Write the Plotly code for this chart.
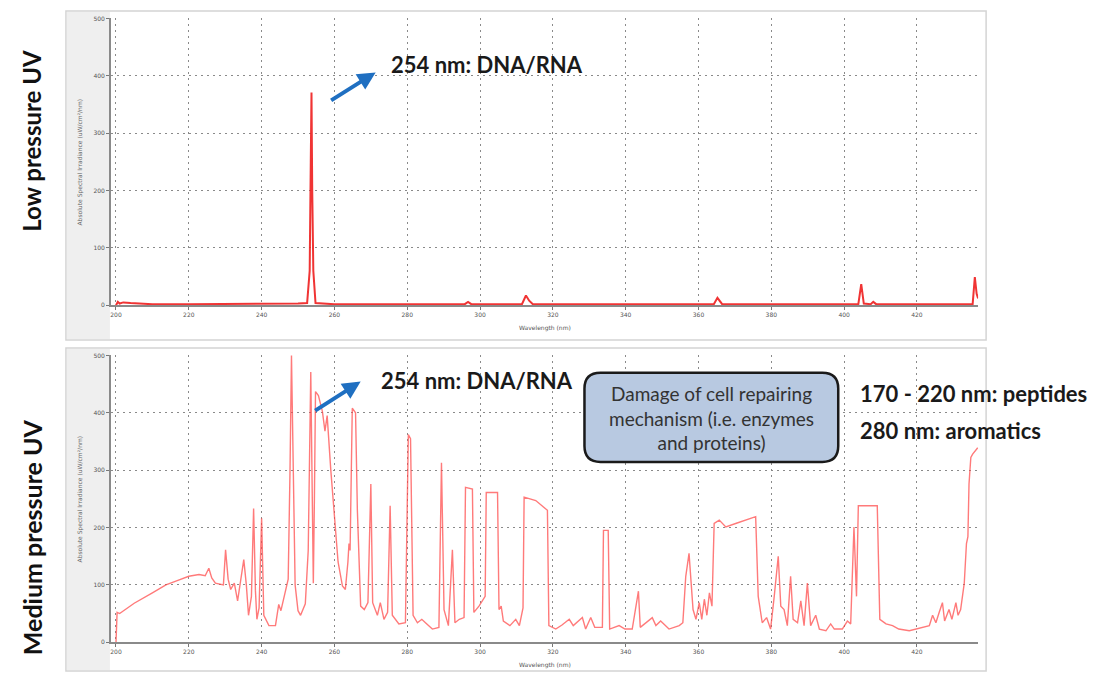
import plotly.graph_objects as go

W, H = 1096, 674

# ---------------- data ----------------
x_ticks = [200, 220, 240, 260, 280, 300, 320, 340, 360, 380, 400, 420]
y_ticks = [0, 100, 200, 300, 400, 500]

lp_wl = [200, 200.5, 201, 202, 204, 206, 210, 220, 240, 250, 252.5, 253.2, 253.5, 253.7,
         253.9, 254.2, 254.8, 260, 280, 295.8, 296.7, 297.6, 311.5, 312.6, 313.5, 314.5,
         340, 364.2, 365.2, 366.5, 380, 403.9, 404.7, 405.4, 407.3, 408, 408.8, 420,
         435.3, 435.9, 436.4, 436.8]
lp_val = [0, 6, 3, 5, 4, 3, 2, 2, 2, 3, 4, 60, 250, 371,
          200, 60, 4, 2, 2, 2, 6, 2, 2, 17, 8, 2,
          2, 2, 13, 2, 2, 2, 37, 3, 2, 6, 2, 2,
          2, 49, 20, 12]

mp_wl = [200, 200.3, 201, 205, 210, 213.7, 217, 220, 222.8, 224.5, 225.5, 226.3, 227.3,
         229.5, 230.1, 230.8, 231.5, 232.5, 233.4, 234.4, 235.1, 235.8, 236.4, 237.2,
         237.8, 238.3, 238.7, 239.3, 240, 240.6, 242, 243.8, 244.7, 245.3, 246.5, 247.3,
         247.8, 248.2, 248.7, 249.2, 250, 250.7, 252, 252.8, 253.5, 253.9, 254.2, 254.5,
         254.8, 255.6, 256.7, 257.4, 258, 259, 259.9, 261, 262.2, 263, 263.7, 264, 264.3,
         264.9, 265.8, 266.3, 267.2, 268.2, 269.2, 270, 270.5, 271.8, 272.6, 273.6, 274.6,
         275.3, 275.9, 277.7, 279.5, 280.3, 280.9, 281.6, 282.8, 284, 285, 286.9, 288.7,
         289.4, 290.1, 291.3, 292.4, 293.1, 294.3, 295.6, 296, 297.9, 298.3, 299.7, 301.4,
         301.7, 304.8, 305.2, 305.8, 306.4, 308.2, 309.8, 310.8, 311.8, 312.1, 315.3, 318.5,
         318.9, 320.8, 322.5, 324.5, 325.6, 328.1, 329, 330.4, 331.5, 333.6, 333.9, 335.2,
         335.6, 338.2, 339.8, 341.8, 343.5, 344, 345.5, 347.3, 348.3, 349.6, 351.9, 354.7,
         355.7, 356.5, 357.4, 358, 358.5, 359.3, 360.2, 360.9, 361.6, 362.3, 363, 363.7,
         364.3, 365.7, 367.5, 370.2, 375.7, 376.4, 377.5, 378.7, 379.8, 380.8, 381.9, 382.6,
         383.5, 384.4, 385.3, 386, 387.2, 388.1, 389, 389.9, 390.8, 392.2, 393.2, 395,
         396.3, 397.3, 399.5, 400.9, 401.8, 402.7, 403.4, 403.9, 409.1, 409.8, 411.5, 413.3,
         415, 417.9, 419.7, 421.5, 423.4, 424.3, 425.2, 426.1, 427, 427.6, 428.8, 429.6,
         430.7, 431.3, 432, 433, 433.6, 434, 434.3, 434.8, 435.3, 436.7]
mp_val = [0, 52, 50, 68, 86, 100, 108, 115, 118, 116, 129, 112, 103,
          100, 161, 110, 92, 103, 72, 110, 144, 100, 47, 80,
          233, 90, 40, 60, 216, 47, 29, 29, 66, 55, 90, 110,
          300, 500, 300, 100, 55, 47, 67, 160, 471, 300, 103, 250,
          437, 430, 402, 368, 395, 300, 224, 140, 98, 92, 140, 172, 160,
          408, 400, 230, 63, 57, 69, 276, 69, 47, 69, 40, 52,
          238, 47, 32, 34, 362, 355, 47, 34, 40, 34, 23, 26,
          313, 57, 29, 161, 34, 40, 43, 270, 267, 52, 63, 80,
          261, 261, 57, 63, 37, 29, 40, 29, 60, 253, 247, 230,
          29, 23, 30, 40, 29, 43, 23, 43, 26, 26, 195, 195,
          23, 29, 23, 23, 89, 26, 34, 43, 29, 37, 23, 29,
          34, 115, 155, 103, 57, 40, 69, 40, 75, 47, 86, 63,
          207, 213, 201, 207, 219, 80, 34, 43, 23, 80, 150, 63,
          57, 29, 115, 40, 34, 72, 29, 103, 29, 47, 23, 20,
          32, 23, 23, 37, 32, 201, 80, 238, 238, 40, 32, 29,
          23, 20, 23, 26, 29, 47, 34, 52, 69, 37, 57, 40,
          69, 47, 57, 103, 172, 184, 276, 322, 328, 339]

panel_labels = ["Low pressure UV", "Medium pressure UV"]
peak_label = "254 nm: DNA/RNA"
box_lines = ["Damage of cell repairing", "mechanism (i.e. enzymes", "and proteins)"]
side_lines = ["170 - 220 nm: peptides", "280 nm: aromatics"]
x_title = "Wavelength (nm)"
y_title = "Absolute Spectral Irradiance (uW/cm²/nm)"

# ---------------- helpers ----------------
def px(x):
    return x / W

def py(y):
    return 1 - y / H

X_RANGE = [198.6, 436.8]
xdom = [px(110), px(978)]

fig = go.Figure()
fig.add_trace(go.Scatter(x=lp_wl, y=lp_val, mode="lines", xaxis="x", yaxis="y",
                         line=dict(color="rgba(238,30,30,0.9)", width=2), showlegend=False))
fig.add_trace(go.Scatter(x=mp_wl, y=mp_val, mode="lines", xaxis="x2", yaxis="y2",
                         line=dict(color="rgba(255,70,70,0.72)", width=1.4), showlegend=False))

axis_common = dict(showgrid=True, gridcolor="#8a8a8a", griddash="2px,4px", gridwidth=1,
                   showline=True, linecolor="#8a8a8a", linewidth=1.5, zeroline=False,
                   ticks="outside", ticklen=3, tickcolor="#777",
                   tickfont=dict(size=6, color="#555", family="DejaVu Sans"))

fig.update_layout(
    width=W, height=H,
    margin=dict(l=0, r=0, t=0, b=0),
    paper_bgcolor="white", plot_bgcolor="white",
    xaxis=dict(domain=xdom, range=X_RANGE, tickvals=x_ticks, anchor="y", **axis_common),
    yaxis=dict(domain=[py(305), py(15)], range=[0, 501], tickvals=y_ticks, anchor="x",
               **axis_common),
    xaxis2=dict(domain=xdom, range=X_RANGE, tickvals=x_ticks, anchor="y2", **axis_common),
    yaxis2=dict(domain=[py(645), py(355)], range=[0, 501], tickvals=y_ticks, anchor="x2",
                **axis_common),
)

shapes = []
# panel frames
for (t, b) in [(8, 340), (348, 674)]:
    shapes.append(dict(type="rect", xref="paper", yref="paper", x0=px(65), x1=px(986),
                       y0=py(b), y1=py(t), line=dict(color="#d4d4d4", width=1.5),
                       fillcolor="rgba(0,0,0,0)", layer="below"))
    shapes.append(dict(type="rect", xref="paper", yref="paper", x0=px(66), x1=px(109),
                       y0=py(b - 1), y1=py(t + 1), line=dict(width=0),
                       fillcolor="#efefef", layer="below"))

# rounded box
bx0, bx1, by0, by1, r = 584, 838, 373, 463, 16
def P(x, y):
    return f"{px(x):.5f},{py(y):.5f}"
path = (f"M {P(bx0 + r, by0)} L {P(bx1 - r, by0)} Q {P(bx1, by0)} {P(bx1, by0 + r)} "
        f"L {P(bx1, by1 - r)} Q {P(bx1, by1)} {P(bx1 - r, by1)} "
        f"L {P(bx0 + r, by1)} Q {P(bx0, by1)} {P(bx0, by1 - r)} "
        f"L {P(bx0, by0 + r)} Q {P(bx0, by0)} {P(bx0 + r, by0)} Z")
shapes.append(dict(type="path", xref="paper", yref="paper", path=path,
                   fillcolor="#b8c9e1", line=dict(color="#1a1a1a", width=2.5)))
fig.update_layout(shapes=shapes)

ann = []
BOLD = "Lato"

def text_ann(x, y, text, size, color="#1a1a1a", xanchor="center", angle=0, family=BOLD,
             align="center"):
    return dict(x=px(x), y=py(y), xref="paper", yref="paper", text=text, showarrow=False,
                xanchor=xanchor, yanchor="middle", textangle=angle, align=align,
                font=dict(family=family, size=size, color=color))

# panel labels
ann.append(text_ann(31, 139, f"<b>{panel_labels[0]}</b>", 24, "#111", angle=-90))
ann.append(text_ann(31, 539, f"<b>{panel_labels[1]}</b>", 25, "#111", angle=-90))
# peak labels
ann.append(text_ann(388, 62, f"<b>{peak_label}</b>", 22, xanchor="left"))
ann.append(text_ann(378, 381, f"<b>{peak_label}</b>", 22, xanchor="left"))
# arrows
for (tx, ty, hx, hy) in [(329, 99, 375, 70), (313, 412, 360, 382)]:
    ann.append(dict(x=px(hx), y=py(hy), xref="paper", yref="paper", ax=tx - hx, ay=ty - hy,
                    axref="pixel", ayref="pixel", text="", showarrow=True,
                    arrowhead=2, arrowsize=0.9, arrowwidth=4, arrowcolor="#1f6fc1"))
# box text
ann.append(text_ann(711, 419, "<br>".join(box_lines), 19, "#333"))
# side labels
ann.append(text_ann(858, 394, f"<b>{side_lines[0]}</b>", 22, xanchor="left"))
ann.append(text_ann(858, 431, f"<b>{side_lines[1]}</b>", 22, xanchor="left"))
# axis titles (tiny)
for yy in [328, 668]:
    ann.append(text_ann(544, yy, x_title, 6, "#555", family="DejaVu Sans"))
for yy in [160, 500]:
    ann.append(text_ann(79, yy, y_title, 6, "#666", angle=-90, family="DejaVu Sans"))
fig.update_layout(annotations=ann)

fig.write_html("out.html", config={"displayModeBar": False},
               post_script="document.body.style.margin='0';")
